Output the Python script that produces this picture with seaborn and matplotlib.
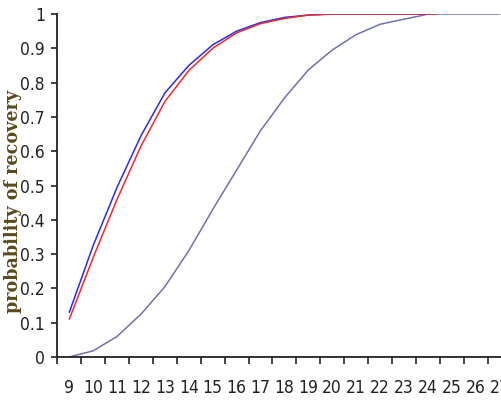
"""
Probability of recovery vs. number of markers, three scenarios
"""

# %% Imports
import numpy as np
import pandas as pd
import seaborn as sns
from matplotlib import pyplot as plt
from matplotlib.ticker import FixedLocator, NullFormatter

# %% Data
X_BLUE = [9, 10, 11, 12, 13, 14, 15, 16, 17, 18, 19, 20, 21, 22, 23, 24]
BLUE = [0.13, 0.325, 0.495, 0.645, 0.77, 0.85, 0.91, 0.95, 0.975, 0.99, 0.997, 1.0, 1.0, 1.0, 1.0, 1.0]

X_RED = [9, 10, 11, 12, 13, 14, 15, 16, 17, 18, 19, 20, 21, 22, 23, 24, 24.4]
RED = [0.11, 0.29, 0.46, 0.615, 0.745, 0.835, 0.90, 0.945, 0.972, 0.987, 0.997, 1.0, 1.0, 1.0, 1.0, 1.0, 1.0]

X_PURPLE = [9, 10, 11, 12, 13, 14, 15, 16, 17, 18, 19, 20, 21, 22, 23, 23.7, 24, 25, 26, 27]
PURPLE = [0.0, 0.018, 0.06, 0.125, 0.205, 0.31, 0.43, 0.545, 0.66, 0.755, 0.837, 0.895, 0.94, 0.97, 0.985, 0.995, 1.0, 1.0, 1.0, 1.0]

CATEGORIES = list(range(9, 28))
Y_TICKS = [0, 0.1, 0.2, 0.3, 0.4, 0.5, 0.6, 0.7, 0.8, 0.9, 1.0]
Y_LABELS = ["0", "0.1", "0.2", "0.3", "0.4", "0.5", "0.6", "0.7", "0.8", "0.9", "1"]

# %% Build long df
df = pd.concat(
    [
        pd.DataFrame({"x": X_PURPLE, "p": PURPLE, "series": "c"}),
        pd.DataFrame({"x": X_BLUE, "p": BLUE, "series": "a"}),
        pd.DataFrame({"x": X_RED, "p": RED, "series": "b"}),
    ],
    ignore_index=True,
)
palette = {"a": "#2a2af0", "b": "#f02a2a", "c": "#7070b4"}

# %% Plot
sns.set_style("white")
plt.rcParams["font.family"] = ["DejaVu Sans"]
plt.rcParams["font.stretch"] = "condensed"

fig = plt.figure(figsize=(5.01, 4.11), dpi=100)
ax = fig.add_axes([0.1144, 0.1314, 0.9066, 0.8345])

for s in ["c", "a", "b"]:
    sns.lineplot(
        data=df[df.series == s],
        x="x",
        y="p",
        color=palette[s],
        linewidth=1.1,
        estimator=None,
        sort=False,
        legend=False,
        ax=ax,
    )

ax.set_xlim(CATEGORIES[0] - 0.5, CATEGORIES[-1] + 0.5)
ax.set_ylim(0, 1)
ax.spines[["top", "right"]].set_visible(False)
for sp in ["left", "bottom"]:
    ax.spines[sp].set_color("#222222")
    ax.spines[sp].set_linewidth(1.3)

# boundaries get the tick marks, centres get the labels
ax.xaxis.set_major_locator(FixedLocator([c - 0.5 for c in CATEGORIES] + [CATEGORIES[-1] + 0.5]))
ax.xaxis.set_major_formatter(NullFormatter())
ax.xaxis.set_minor_locator(FixedLocator(CATEGORIES))
ax.set_xticklabels([str(c) for c in CATEGORIES], minor=True)
ax.tick_params(axis="x", which="major", direction="out", length=5, width=1.2, color="#222222", bottom=True)
ax.tick_params(axis="x", which="minor", length=0, pad=16, labelsize=12.5, labelcolor="#222222")

ax.set_yticks(Y_TICKS)
ax.set_yticklabels(Y_LABELS)
ax.tick_params(axis="y", direction="out", length=4, width=1.2, color="#222222", left=True, pad=5,
               labelsize=12.5, labelcolor="#222222")

ax.set_xlabel("")
ax.set_ylabel("probability of recovery", family="DejaVu Serif", fontsize=14, color="#5a4a1a",
              fontweight="bold")
ax.yaxis.set_label_coords(-0.078, 0.453)

fig.savefig("out.png", dpi=100)
